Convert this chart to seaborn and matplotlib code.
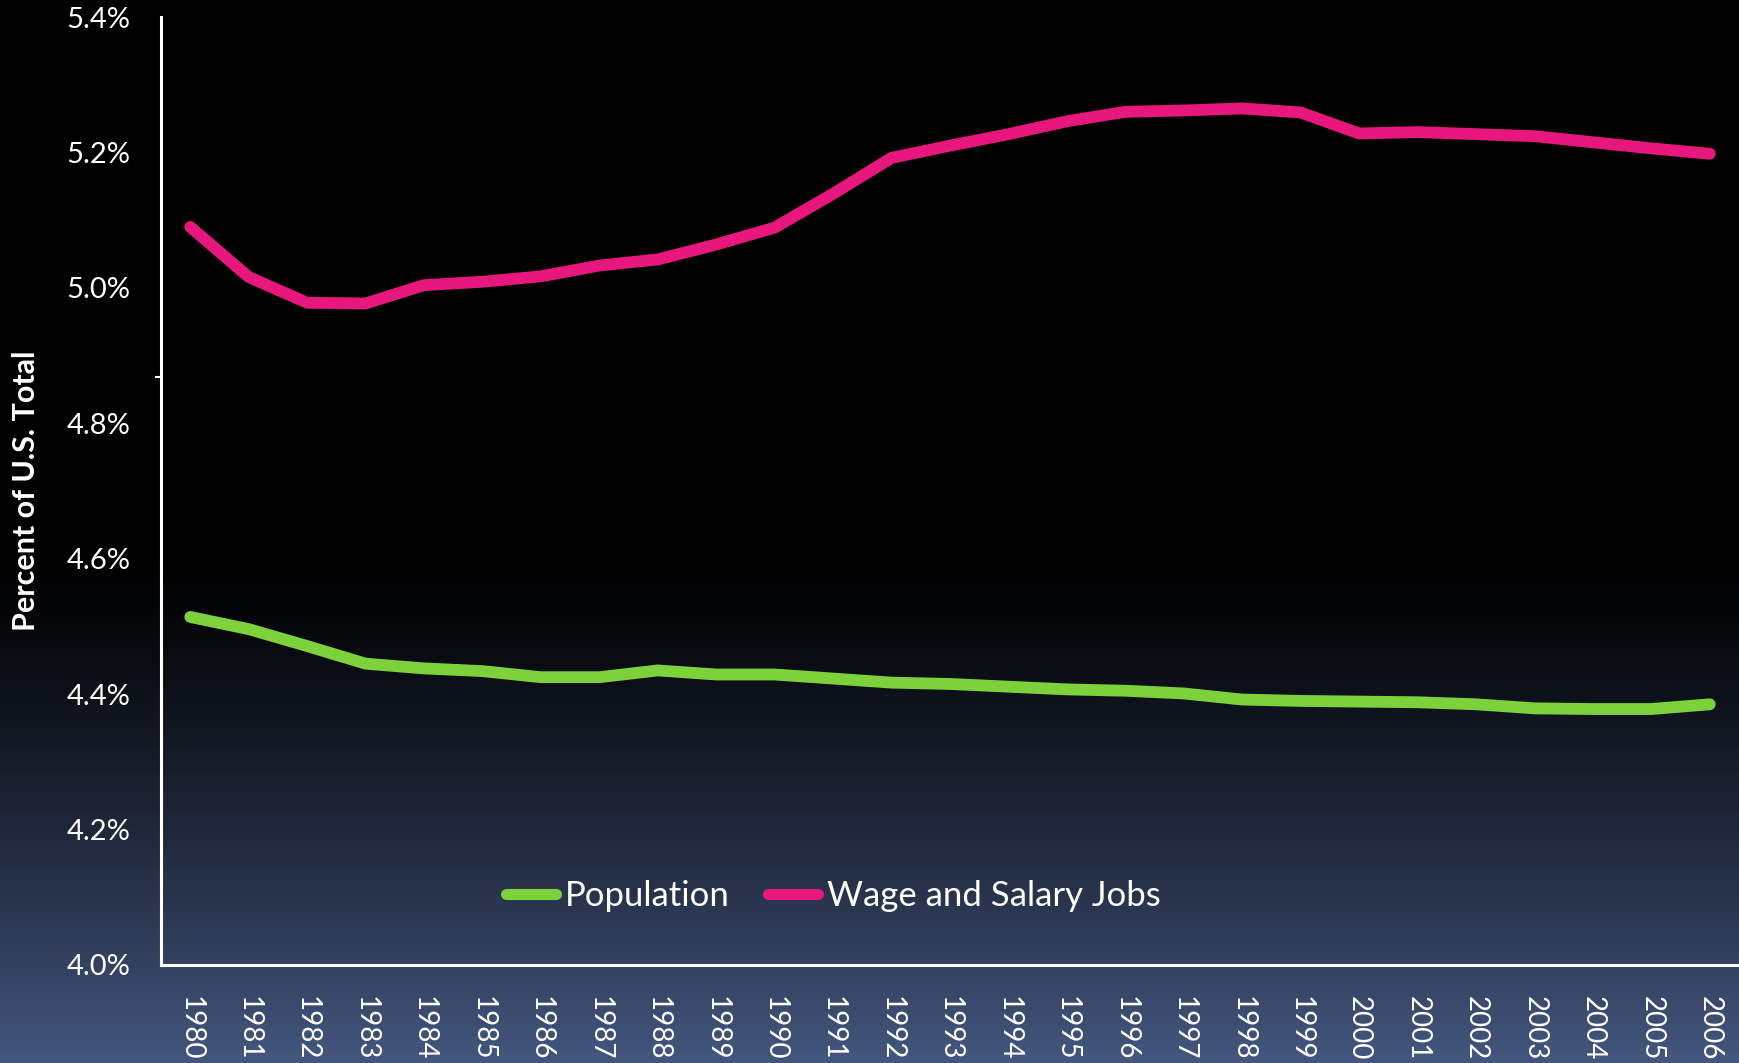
import numpy as np
import pandas as pd
import matplotlib
matplotlib.use("Agg")
import matplotlib.pyplot as plt
import seaborn as sns

# dados (percentual do total dos EUA)
anos = [str(a) for a in range(1980, 2007)]
populacao = [4.514, 4.496, 4.471, 4.445, 4.438, 4.434, 4.425, 4.425, 4.435, 4.429,
             4.429, 4.423, 4.417, 4.415, 4.411, 4.407, 4.405, 4.401, 4.392, 4.390,
             4.389, 4.388, 4.385, 4.379, 4.378, 4.378, 4.385]
empregos = [5.090, 5.016, 4.978, 4.977, 5.004, 5.009, 5.017, 5.033, 5.042, 5.064,
            5.089, 5.139, 5.192, 5.210, 5.227, 5.246, 5.260, 5.262, 5.265, 5.259,
            5.228, 5.230, 5.227, 5.224, 5.215, 5.206, 5.198]
series = ["Population", "Wage and Salary Jobs"]
cores = ["#7DD13A", "#E8177D"]
marcas_y = [4.0, 4.2, 4.4, 4.6, 4.8, 5.0, 5.2, 5.4]

df = pd.DataFrame({"Ano": anos * 2,
                   "Valor": populacao + empregos,
                   "Serie": [series[0]] * len(anos) + [series[1]] * len(anos)})

sns.set_theme(style="white")
plt.rcParams['font.family'] = ['Lato', 'DejaVu Sans']

fig = plt.figure(figsize=(17.39, 10.63), dpi=100)

# fundo em degrade: preto no alto, azul acinzentado embaixo
fundo = fig.add_axes([0, 0, 1, 1], zorder=-10)
h = 1063
t = np.clip((np.arange(h) - 545) / (h - 545), 0, 1) ** 1.3
topo = np.array([0, 0, 0]) / 255
base = np.array([68, 87, 127]) / 255
grad = topo[None, :] * (1 - t[:, None]) + base[None, :] * t[:, None]
fundo.imshow(grad[:, None, :], aspect='auto', extent=[0, 1, 0, 1], origin='upper')
fundo.axis('off')

ax = fig.add_axes([0.0926, 0.0922, 0.9074, 0.8918])
ax.patch.set_alpha(0)

sns.lineplot(data=df, x="Ano", y="Valor", hue="Serie", palette=cores,
             linewidth=8.5, ax=ax, sort=False, solid_capstyle='round')

ax.set_xlim(-0.5, len(anos) - 0.5)
ax.set_ylim(4.0, 5.4)
ax.set_yticks(marcas_y)
ax.set_yticklabels([f"{v:.1f}%" for v in marcas_y], color='white', fontsize=21)
ax.set_xticks(range(len(anos)))
ax.set_xticklabels(anos, rotation=-90, color='white', fontsize=20, va='top')
ax.tick_params(axis='y', length=0, pad=22)
ax.tick_params(axis='x', length=0, pad=22)
# pequena marca no eixo (quebra do original)
ax.set_yticks([4.868], minor=True)
ax.tick_params(axis='y', which='minor', length=4, width=1.5, color='white', left=True)

ax.set_xlabel("")
ax.set_ylabel("Percent of U.S. Total", color='white', fontsize=22, fontweight='bold')
ax.yaxis.set_label_coords(-0.077, 0.5)

for lado in ['top', 'right']:
    ax.spines[lado].set_visible(False)
for lado in ['left', 'bottom']:
    ax.spines[lado].set_color('white')
    ax.spines[lado].set_linewidth(2.2)

leg = ax.legend(loc='center', bbox_to_anchor=(0.426, 0.073), ncol=2, frameon=False,
                fontsize=25, handlelength=1.45, handletextpad=0.25, columnspacing=1.1)
for txt in leg.get_texts():
    txt.set_color('white')
for linha in leg.get_lines():
    linha.set_linewidth(8)
    linha.set_solid_capstyle('round')

fig.savefig('out.png', dpi=100)
plt.close()
